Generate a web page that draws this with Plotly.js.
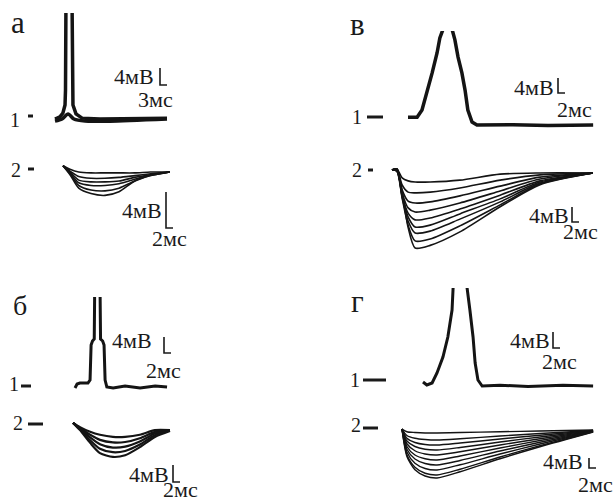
<!DOCTYPE html>
<html><head><meta charset="utf-8">
<script src="https://cdn.plot.ly/plotly-3.0.1.min.js"></script>
<style>html,body{margin:0;padding:0;background:#fff}</style>
</head><body><div id="chart" style="width:616px;height:502px"></div>
<script>
// ---------- DATA (time in ms, potential in mV) ----------
// Panel а, trace 1: spike sweep and sub-threshold sweep
const tA1 = [0, 2.1, 3.4, 4.3, 4.5, 4.7, 7.3, 7.5, 7.7, 9.0, 11.6, 19.3, 32, 48];
const vA1 = [0, 0.5, 1.4, 3.3, 6.8, 28, 28, 6.8, 3.3, 1.2, 0.2, 0, 0.1, 0.2];
const tA1b = [0, 3, 5.6, 8.1, 12.9, 23.6, 48];
const vA1b = [-0.5, 0, 1.2, 0, -0.5, -0.5, 0];
// Panel а, trace 2: family of sweeps
const tA2 = [0, 2, 4.5, 8, 12, 16, 20.5, 25, 30.5];
const vA2 = [
  [0.7, 0.3, 0, -0.1, -0.1, -0.1, -0.1, 0, 0],
  [0.7, 0.1, -0.5, -0.7, -0.7, -0.6, -0.4, -0.2, 0],
  [0.7, 0, -0.9, -1.1, -1.1, -1.0, -0.6, -0.3, 0],
  [0.7, -0.1, -1.2, -1.5, -1.5, -1.3, -0.8, -0.3, 0],
  [0.7, -0.2, -1.5, -2.0, -2.1, -1.8, -1.0, -0.4, 0],
  [0.7, -0.3, -1.8, -2.4, -2.6, -2.2, -1.0, -0.4, 0]
];
// Panel в, trace 1
const tV1 = [0, 2.6, 4, 5.4, 6.9, 8.3, 9.1, 10, 11.3, 12.6, 13.4, 14.3, 15.4, 16.3, 17.1, 18.3, 19.7, 30, 40, 52.9];
const vV1 = [2.1, 2.1, 4, 8.5, 13.9, 19.2, 23.2, 25.5, 34, 25.5, 22.7, 18.1, 13.9, 9.3, 4, 0.8, 0, 0.1, -0.1, 0];
// Panel в, trace 2
const tV2 = [0, 1.4, 2.9, 4.6, 6.6, 10.9, 19.4, 30.9, 42.3, 57.4];
const vV2 = [
  [0.8, 1.1, -1.3, -2.1, -2.4, -2.4, -1.9, -0.3, 0, 0],
  [0.8, 1.1, -3.2, -5.1, -5.3, -5.1, -4.0, -1.9, -0.5, 0],
  [0.8, 1.1, -4.5, -7.5, -8.0, -7.7, -6.1, -3.5, -1.1, 0],
  [0.8, 1.1, -5.3, -9.3, -10.4, -9.9, -8.0, -4.8, -1.6, 0],
  [0.8, 1.1, -5.9, -10.7, -12.5, -12.0, -9.6, -5.9, -2.1, 0],
  [0.8, 0.8, -6.1, -11.7, -14.4, -13.9, -10.9, -6.9, -2.4, 0],
  [0.8, 0.8, -6.4, -12.8, -16.0, -15.5, -12.3, -7.7, -2.7, 0],
  [0.8, 0.5, -6.7, -13.9, -18.1, -17.6, -14.1, -8.5, -2.9, 0],
  [0.8, 0.5, -5.1, -14.5, -20.0, -19.3, -15.7, -9.0, -3.1, 0]
];
// Panel б, trace 1
const tB1 = [0, 0.6, 1.4, 3.7, 4.3, 4.6, 5.0, 5.5, 5.6, 5.6, 7.1, 7.2, 7.3, 7.9, 8.3, 8.6, 9.1, 10.9, 14.3, 18.6, 22.9, 26.3];
const vB1 = [-0.25, 0.75, 1, 1, 1.75, 10.5, 11.5, 12.0, 21.75, 29.25, 29.25, 21.75, 12.0, 11.5, 10.5, 1.75, 0, -0.25, 0.25, -0.25, 0.25, 0];
// Panel б, trace 2
const tB2 = [0, 2, 4.9, 7.7, 11.4, 14.9, 19.1, 23.4, 27.7];
const vB2 = [
  [1.2, 0.2, -0.9, -1.6, -2.1, -2.1, -1.6, -0.5, -0.5],
  [1.2, 0, -1.6, -2.8, -3.4, -3.3, -2.4, -0.9, -0.5],
  [1.2, -0.1, -2.2, -3.8, -4.6, -4.4, -3.2, -1.3, -0.6],
  [1.2, -0.3, -2.9, -4.9, -5.7, -5.4, -3.9, -1.7, -0.6],
  [1.2, -0.5, -3.5, -5.9, -6.8, -6.4, -4.5, -2.1, -0.7]
];
// Panel г, trace 1
const tG1 = [0, 1.1, 2.6, 4, 5.7, 7.1, 8.3, 8.6, 10.6, 12.6, 13.4, 14.3, 14.9, 15.7, 16.9, 22, 30, 40, 48.6];
const vG1 = [1, 0.25, 0.75, 3.25, 7.25, 12.25, 19, 24.5, 29, 24.5, 19, 12.25, 5.75, 1.5, 0, 0.2, -0.1, 0.2, 0];
// Panel г, trace 2
const tG2 = [0, 1.4, 3.7, 6.6, 10, 16.6, 28, 39.4, 54.6];
const vG2 = [
  [0.4, -0.7, -1.0, -1.2, -1.2, -1.0, -0.7, -0.4, 0],
  [0.4, -2.2, -3.3, -3.8, -4.0, -3.5, -2.4, -1.4, -0.2],
  [0.4, -3.3, -5.0, -5.8, -6.0, -5.2, -3.6, -2.1, -0.2],
  [0.4, -4.4, -6.6, -7.7, -8.0, -7.0, -4.8, -2.8, -0.3],
  [0.4, -5.5, -8.3, -9.6, -10.0, -8.7, -6.0, -3.5, -0.4],
  [0.4, -6.6, -10.0, -11.5, -12.0, -10.4, -7.2, -4.2, -0.5],
  [0.4, -7.7, -11.6, -13.4, -14.0, -12.2, -8.4, -4.9, -0.6],
  [0.4, -8.8, -13.3, -15.4, -16.0, -13.9, -9.6, -5.6, -0.6],
  [0.4, -9.9, -14.9, -17.3, -18.0, -15.7, -10.8, -6.3, -0.7],
  [0.4, -10.6, -15.9, -18.4, -19.2, -16.7, -11.5, -6.7, -0.8]
];
// Calibration bars and texts
const panelLabels = ["а", "б", "в", "г"];
const scaleMV = 4;
const scaleMS = [3, 2, 2, 2, 2, 2, 2, 2];
const scaleTextV = "4мВ";
const scaleTextT = ["3мс", "2мс", "2мс", "2мс", "2мс", "2мс", "2мс", "2мс"];
const traceLabels = ["1", "2"];

// ---------- LAYOUT GEOMETRY (pixels) ----------
const W = 616, H = 502;
const FAM = 'Liberation Serif';
// L,R,T,B: subplot box; ox,oy: origin pixel; kx px/ms; ky px/mV; bar: calibration corner; tv: right/middle of mV text; tt: centre of ms text
const geo = [
  {L:45, R:180, T:13, B:130, ox:55, oy:119, kx:7/3, ky:4.25, bar:[160,85], tv:[156,77], tt:[156,99]},
  {L:55, R:185, T:150, B:240, ox:63, oy:172, kx:3.5, ky:9, bar:[166,228], tv:[164,210], tt:[169,238]},
  {L:400, R:605, T:31, B:135, ox:408, oy:125, kx:3.5, ky:3.75, bar:[558,93], tv:[556,87], tt:[574,109]},
  {L:385, R:605, T:160, B:260, ox:392, oy:173, kx:3.5, ky:3.75, bar:[572,222], tv:[571,215], tt:[580,231]},
  {L:65, R:185, T:297, B:400, ox:75, oy:387, kx:3.5, ky:4, bar:[164,353], tv:[154,340], tt:[163,370]},
  {L:65, R:190, T:410, B:490, ox:73, oy:428, kx:3.5, ky:4.25, bar:[173,482], tv:[171,474], tt:[180,489]},
  {L:415, R:605, T:288, B:395, ox:423, oy:386, kx:3.5, ky:4, bar:[553,348], tv:[552,340], tt:[559,361]},
  {L:395, R:605, T:415, B:490, ox:402, oy:430, kx:3.5, ky:2.5, bar:[589,468], tv:[585,461], tt:[595,484]}
];
const labelPos = [[18,23],[20,305],[357,25],[357,301]];
const numPos = [[15,120],[16,170],[357,117],[357,170],[14,384],[18,423],[355,380],[356,425]];
const markPos = [[28,33,116],[28,34,169],[367,383,117],[368,373,170],[21,31,386],[28,43,424],[363,386,380],[363,378,428]];

const layout = {
  width: W, height: H, margin:{l:0,r:0,t:0,b:0},
  paper_bgcolor:'#fff', plot_bgcolor:'rgba(0,0,0,0)',
  font:{family:FAM, color:'#1a1a1a'},
  showlegend:false, annotations:[], shapes:[]
};
geo.forEach((g,i) => {
  const n = i===0 ? '' : String(i+1);
  layout['xaxis'+n] = {domain:[g.L/W, g.R/W], range:[(g.L-g.ox)/g.kx, (g.R-g.ox)/g.kx],
    visible:false, fixedrange:true, anchor:'y'+n};
  layout['yaxis'+n] = {domain:[1-g.B/H, 1-g.T/H], range:[(g.oy-g.B)/g.ky, (g.oy-g.T)/g.ky],
    visible:false, fixedrange:true, anchor:'x'+n};
  const bx = (g.bar[0]-g.ox)/g.kx, by = (g.oy-g.bar[1])/g.ky;
  layout.shapes.push({type:'path', xref:'x'+n, yref:'y'+n,
    path:`M ${bx},${by+scaleMV} L ${bx},${by} L ${bx+scaleMS[i]},${by}`,
    line:{color:'#1a1a1a', width:1.6}});
  const font = {family:FAM, size:22, color:'#1a1a1a'};
  layout.annotations.push({xref:'paper', yref:'paper', x:g.tv[0]/W, y:1-g.tv[1]/H,
    text:scaleTextV, showarrow:false, xanchor:'right', yanchor:'middle', font});
  layout.annotations.push({xref:'paper', yref:'paper', x:g.tt[0]/W, y:1-g.tt[1]/H,
    text:scaleTextT[i], showarrow:false, xanchor:'center', yanchor:'middle', font});
  layout.annotations.push({xref:'paper', yref:'paper', x:numPos[i][0]/W, y:1-numPos[i][1]/H,
    text:traceLabels[i%2], showarrow:false, xanchor:'center', yanchor:'middle',
    font:{family:FAM, size:20, color:'#1a1a1a'}});
  const m = markPos[i];
  layout.shapes.push({type:'line', xref:'paper', yref:'paper', x0:m[0]/W, x1:m[1]/W,
    y0:1-m[2]/H, y1:1-m[2]/H, line:{color:'#1a1a1a', width:3}});
});
panelLabels.forEach((t,i) => {
  layout.annotations.push({xref:'paper', yref:'paper', x:labelPos[i][0]/W, y:1-labelPos[i][1]/H,
    text:t, showarrow:false, xanchor:'center', yanchor:'middle',
    font:{family:FAM, size:i===1?28:31, color:'#1a1a1a'}});
});

const data = [];
function add(t, v, ax, w, smooth) {
  const n = ax===0 ? '' : String(ax+1);
  data.push({x:t, y:v, xaxis:'x'+n, yaxis:'y'+n, mode:'lines', hoverinfo:'skip',
    line:{color:'#141414', width:w, shape: smooth ? 'spline' : 'linear', smoothing:0.7}});
}
add(tA1b, vA1b, 0, 3.5, true);
add(tA1, vA1, 0, 3.5, false);
vA2.forEach(v => add(tA2, v, 1, 1.6, true));
add(tV1, vV1, 2, 3.5, false);
vV2.forEach(v => add(tV2, v, 3, 1.6, true));
add(tB1, vB1, 4, 3, false);
vB2.forEach(v => add(tB2, v, 5, 2.2, true));
add(tG1, vG1, 6, 3, false);
vG2.forEach(v => add(tG2, v, 7, 1.4, true));

Plotly.newPlot('chart', data, layout, {staticPlot:true, displayModeBar:false});
</script></body></html>
